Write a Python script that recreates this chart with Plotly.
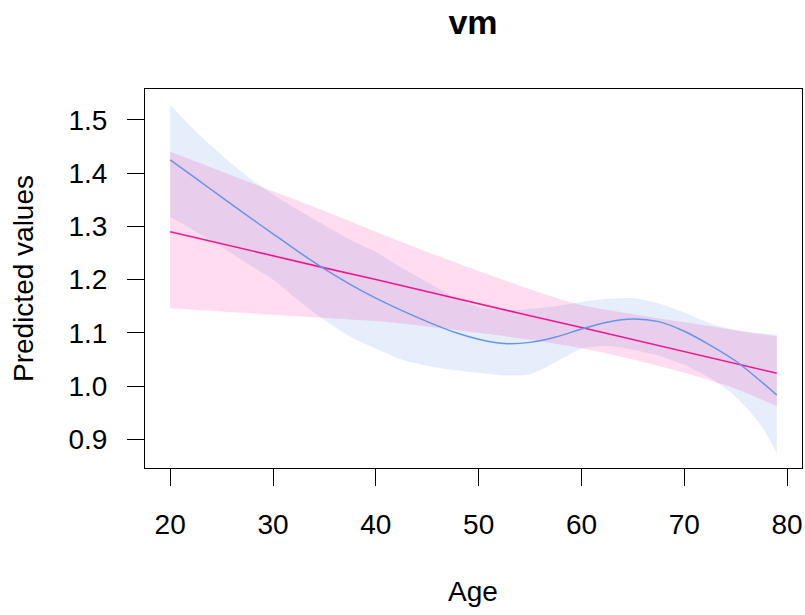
import plotly.graph_objects as go

# Blue series (smooth fit) with confidence band
age_blue = [20, 22.5, 25, 27.5, 30, 32.5, 35, 37.5, 40, 42.5, 45, 47.5, 50,
            52.5, 55, 57.5, 60, 62.5, 65, 67.5, 70, 72.5, 75, 77.5, 79]
blue_fit = [1.425, 1.390, 1.355, 1.320, 1.286, 1.252, 1.220, 1.191, 1.165, 1.142, 1.121, 1.102, 1.088,
            1.080, 1.082, 1.092, 1.107, 1.120, 1.126, 1.121, 1.103, 1.077, 1.047, 1.008, 0.983]
blue_upper = [1.528, 1.478, 1.434, 1.394, 1.360, 1.330, 1.302, 1.275, 1.252, 1.222, 1.195, 1.168, 1.148,
              1.142, 1.145, 1.150, 1.158, 1.164, 1.165, 1.155, 1.138, 1.118, 1.105, 1.099, 1.097]
blue_lower = [1.318, 1.290, 1.261, 1.230, 1.200, 1.160, 1.124, 1.093, 1.070, 1.050, 1.038, 1.030, 1.025,
              1.020, 1.022, 1.045, 1.070, 1.075, 1.068, 1.057, 1.040, 1.015, 0.980, 0.925, 0.873]

# Pink series (linear fit) with confidence band
age_pink = [20, 25, 30, 35, 40, 45, 50, 55, 60, 65, 70, 75, 79]
pink_fit = [1.290, 1.267, 1.245, 1.222, 1.200, 1.177, 1.155, 1.132, 1.110, 1.087, 1.065, 1.042, 1.024]
pink_upper = [1.440, 1.403, 1.366, 1.329, 1.290, 1.252, 1.216, 1.182, 1.152, 1.135, 1.120, 1.105, 1.093]
pink_lower = [1.146, 1.140, 1.134, 1.128, 1.122, 1.112, 1.100, 1.087, 1.071, 1.050, 1.025, 0.995, 0.962]

x_ticks = [20, 30, 40, 50, 60, 70, 80]
y_ticks = [0.9, 1.0, 1.1, 1.2, 1.3, 1.4, 1.5]
y_tick_text = ["0.9", "1.0", "1.1", "1.2", "1.3", "1.4", "1.5"]

BLUE = "#6495ED"
PINK = "#F2188C"
BLUE_FILL = "rgba(100,149,237,0.16)"
PINK_FILL = "rgba(255,20,147,0.15)"
FONT = "Liberation Sans, Arial, sans-serif"
SM = 0.8

fig = go.Figure()
fig.add_trace(go.Scatter(x=age_blue, y=blue_lower, mode="lines",
                         line=dict(width=0, shape="spline", smoothing=SM),
                         showlegend=False, hoverinfo="skip"))
fig.add_trace(go.Scatter(x=age_blue, y=blue_upper, mode="lines",
                         line=dict(width=0, shape="spline", smoothing=SM),
                         fill="tonexty", fillcolor=BLUE_FILL, showlegend=False, hoverinfo="skip"))
fig.add_trace(go.Scatter(x=age_pink, y=pink_lower, mode="lines",
                         line=dict(width=0, shape="spline", smoothing=SM),
                         showlegend=False, hoverinfo="skip"))
fig.add_trace(go.Scatter(x=age_pink, y=pink_upper, mode="lines",
                         line=dict(width=0, shape="spline", smoothing=SM),
                         fill="tonexty", fillcolor=PINK_FILL, showlegend=False, hoverinfo="skip"))
fig.add_trace(go.Scatter(x=age_pink, y=pink_fit, mode="lines", line=dict(color=PINK, width=1.6),
                         showlegend=False))
fig.add_trace(go.Scatter(x=age_blue, y=blue_fit, mode="lines",
                         line=dict(color=BLUE, width=1.5, shape="spline", smoothing=SM),
                         showlegend=False))

fig.update_layout(
    width=805, height=615,
    margin=dict(l=145, r=3, t=89, b=147),
    paper_bgcolor="white", plot_bgcolor="white",
    font=dict(family=FONT, size=28, color="black"),
    title=dict(text="<b>vm</b>", x=473 / 805, xanchor="center", xref="container",
               y=1 - 22 / 615, yanchor="middle", yref="container",
               font=dict(family=FONT, size=34, color="black")),
    showlegend=False,
)
fig.update_xaxes(range=[17.55, 81.45], tickvals=x_ticks, ticks="outside", ticklen=17, tickwidth=1,
                 tickcolor="black", showline=True, linecolor="black", linewidth=1, mirror=True,
                 showgrid=False, zeroline=False, ticklabelstandoff=14,
                 tickfont=dict(family=FONT, size=28, color="black"))
fig.update_yaxes(range=[0.846, 1.558], tickvals=y_ticks, ticktext=y_tick_text, ticks="outside", ticklen=17,
                 tickwidth=1, tickcolor="black", showline=True, linecolor="black", linewidth=1, mirror=True,
                 showgrid=False, zeroline=False, ticklabelstandoff=14,
                 tickfont=dict(family=FONT, size=28, color="black"))

fig.add_annotation(text="Age", xref="paper", yref="paper", x=(473 - 145) / 657, y=(468 - 591) / 379,
                   xanchor="center", yanchor="middle", showarrow=False,
                   font=dict(family=FONT, size=28, color="black"))
fig.add_annotation(text="Predicted values", xref="paper", yref="paper", x=(23 - 145) / 657,
                   y=(468 - 279) / 379, xanchor="center", yanchor="middle", textangle=-90, showarrow=False,
                   font=dict(family=FONT, size=28, color="black"))

fig.write_html("out.html")
